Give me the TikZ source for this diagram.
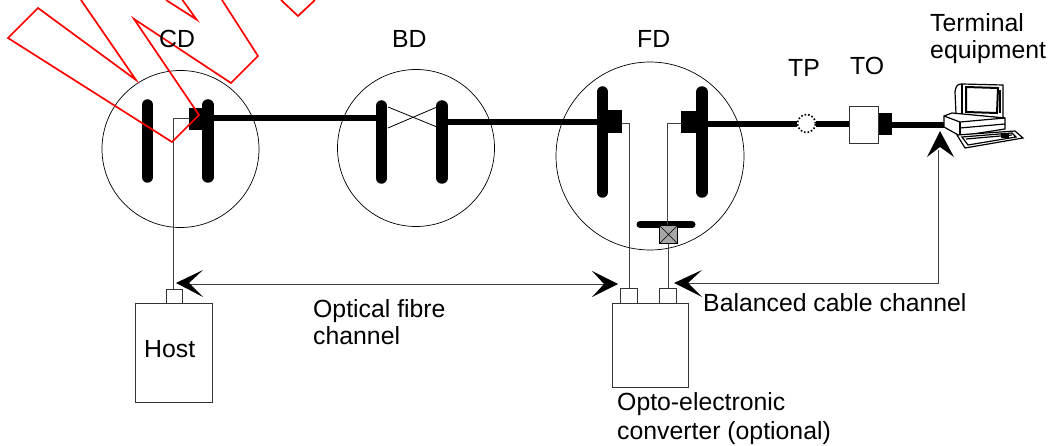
\documentclass[tikz,border=0pt]{standalone}
\usepackage{fontspec}
\setmainfont{Liberation Sans}
\tikzset{
  px/.style={x=1pt,y=-1pt},
  redline/.style={draw=red,line width=1.7pt,line join=miter,miter limit=20},
  ring/.style={draw=black,line width=0.7pt,fill=none},
  thin wire/.style={draw=black!75,line width=0.9pt},
  bar/.style={line width=11.5pt,line cap=round,draw=black},
  cable/.style={line width=6pt,draw=black},
  block/.style={draw=black!80,line width=0.9pt,fill=white},
  lbl/.style={font=\fontsize{24.8pt}{27.5pt}\selectfont,inner sep=0pt,align=left,text=black},
  bigarrow/.style={fill=black,draw=none},
}
\begin{document}
\begin{tikzpicture}[px]
\useasboundingbox (0,0) rectangle (1052,446);
% rings
\node[ring,circle,minimum size=157pt,inner sep=0pt] (cd) at (180.5,149) {};
\node[ring,circle,minimum size=157pt,inner sep=0pt] (bd) at (416,148) {};
\node[ring,circle,minimum size=188pt,inner sep=0pt] (fd) at (650,156) {};
% cables
\coordinate (cdr) at (208,118.5);
\coordinate (bdl) at (381,118.5);
\coordinate (bdr) at (442,122);
\coordinate (fdl) at (602,122);
\coordinate (fdr) at (702,124);
\coordinate (tpl) at (797,124);
\coordinate (tpr) at (816,124);
\coordinate (tol) at (849,124);
\coordinate (tor) at (891,125);
\coordinate (pc) at (944,125);
\draw[cable] (cdr) -- (bdl);
\draw[cable] (bdr) -- (fdl);
\draw[cable] (fdr) -- (tpl);
\draw[cable] (tpr) -- (tol);
\draw[cable] (tor) -- (pc);
% bars
\draw[bar] (147.5,105) -- (147.5,177);
\draw[bar] (208,105) -- (208,177);
\draw[bar] (381.5,106) -- (381.5,178);
\draw[bar] (442,106) -- (442,178);
\draw[bar] (602.5,92) -- (602.5,192);
\draw[bar] (702,92) -- (702,192);
\draw[line width=7pt,line cap=round] (640,224.5) -- (692,224.5);
% connector blocks
\fill (189,108) rectangle (208,130);
\fill (602,110) rectangle (622,133);
\fill (681,111) rectangle (702,133);
% patch X
\draw[black,line width=0.8pt] (388,107) -- (437,127);
\draw[black,line width=0.8pt] (388,128) -- (437,107);
% thin wires
\draw[thin wire] (189,118) -- (173,118) -- (173,290);
\draw[thin wire] (622,123) -- (629,123) -- (629,288);
\draw[thin wire] (681,123) -- (667.5,123) -- (667.5,226);
\draw[thin wire] (668.5,243) -- (668.5,288);
% cross-connect
\node[draw=black,line width=0.9pt,fill=black!35,minimum size=18pt,inner sep=0pt] (xc) at (668.5,234.5) {};
\draw[black,line width=0.6pt] (xc.north west) -- (xc.south east) (xc.north east) -- (xc.south west);
% TP
\node[circle,draw=black,dotted,line width=1.6pt,fill=white,minimum size=18pt,inner sep=0pt] (tp) at (806.5,123.5) {};
% TO
\fill (876,113) rectangle (892,135);
\node[block,minimum width=29pt,minimum height=37pt,inner sep=0pt] (to) at (863.5,124.5) {};
% channel lines
\draw[thin wire] (185,284) -- (610,284);
\draw[thin wire] (680,283) -- (938,283) -- (938,150);
% arrowheads
\fill[bigarrow] (176,283) -- (203,270) -- (189,283) -- (203,297) -- cycle;
\fill[bigarrow] (618,284) -- (592,271) -- (604,284) -- (592,297) -- cycle;
\fill[bigarrow] (674,283) -- (702,270) -- (688,283) -- (702,297) -- cycle;
\fill[bigarrow] (940,131) -- (954,157) -- (940,147) -- (927,157) -- cycle;
% host
\node[block,minimum width=77pt,minimum height=99pt,inner sep=0pt] (host) at (173.5,352.5) {};
\node[block,minimum width=16pt,minimum height=14pt,inner sep=0pt] (hostp) at (174,296) {};
% converter
\node[block,minimum width=76pt,minimum height=84pt,inner sep=0pt] (conv) at (650,345) {};
\node[block,minimum width=17pt,minimum height=15pt,inner sep=0pt] (cp1) at (628.5,295.5) {};
\node[block,minimum width=17pt,minimum height=15pt,inner sep=0pt] (cp2) at (667.5,295.5) {};
% computer
\begin{scope}[line width=1.2pt,draw=black]
\draw[fill=white] (955,92) .. controls (956,85) and (958,84) .. (962,84) -- (1003,85) -- (1003,118) -- (956,114) -- cycle;
\draw[line width=2pt] (962,84) -- (962,115);
\draw[fill=white,line width=2pt] (966,87) -- (998,88) -- (997,113) -- (966,112) -- cycle;
\draw (1000,90) -- (1000,113);
\draw[fill=white] (944,116) -- (952,113) -- (1005,118) -- (1005,129) -- (960,136) -- (944,127) -- cycle;
\draw (944,116) -- (960,122) -- (1005,118);
\draw (960,122) -- (960,136);
\draw (960,128) -- (1005,124);
\draw[fill=white] (957,135) -- (1015,131) -- (1023,138) -- (965,148) -- cycle;
\draw (962,137) -- (1012,133) -- (1016,137) -- (968,145) -- cycle;
\draw (966,139) -- (1012,135);
\draw[fill=black] (1002,134) rectangle (1008,137);
\end{scope}
% red
\draw[redline] (81,0) -- (136,80) -- (38,8) -- (8,38) -- (172,142) -- (199,115) -- (134,19) -- (231,83) -- (258,56) -- (222,0);
\draw[redline] (166,0) -- (196.5,19.5) -- (182.5,0);
\draw[redline] (281,0) -- (298,16) -- (315,0);
% labels
\node[lbl,anchor=base west] (tcd) at (159,48) {CD};
\node[lbl,anchor=base west] (tbd) at (392,48) {BD};
\node[lbl,anchor=base west] (tfd) at (637,48) {FD};
\node[lbl,anchor=base west] (ttp) at (788,77) {TP};
\node[lbl,anchor=base west] (tto) at (850,75) {TO};
\node[lbl,anchor=north west] (tte) at (930,13) {Terminal\\equipment};
\node[lbl,anchor=north west] (tof) at (313,299) {Optical fibre\\channel};
\node[lbl,anchor=base west] (tho) at (144,357) {Host};
\node[lbl,anchor=base west] (tbc) at (703,312) {Balanced cable channel};
\node[lbl,anchor=north west] (toe) at (617,392) {Opto-electronic\\[1.5pt]converter (optional)};
\end{tikzpicture}
\end{document}
